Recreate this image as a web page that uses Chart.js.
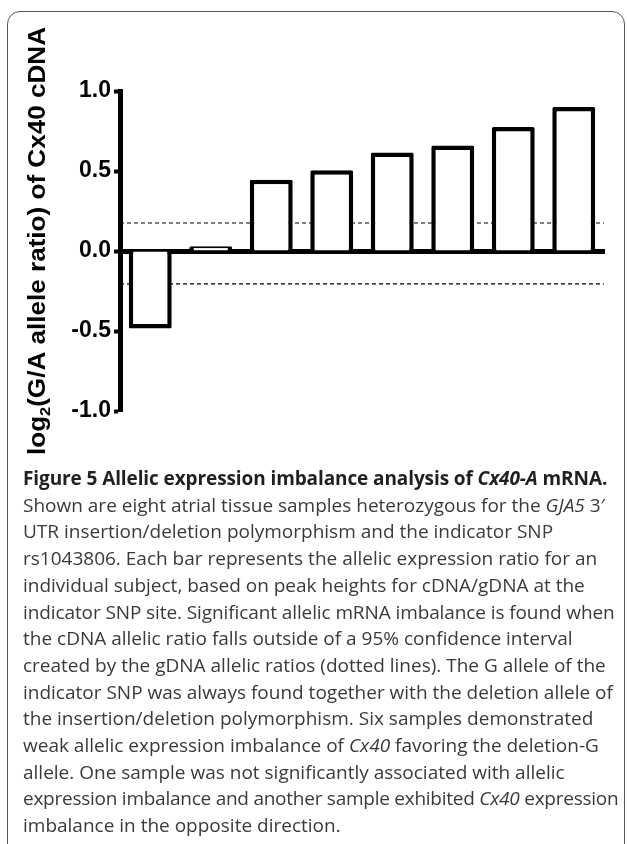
<!DOCTYPE html>
<html><head><meta charset="utf-8">
<script src="https://cdn.jsdelivr.net/npm/chart.js@4"></script>
<style>
html,body{margin:0;padding:0;background:#fff;width:627px;height:844px;overflow:hidden;}
#frame{position:absolute;left:7px;top:11px;width:618px;height:850px;border:1.3px solid #555;border-radius:13px;box-sizing:border-box;}
#wrap{position:absolute;left:0;top:0;width:627px;height:470px;}
#cap{position:absolute;left:23px;top:465px;font-family:"Open Sans";font-size:19px;line-height:26.7px;color:#3a3a3a;white-space:nowrap;}
#cap b{color:#231f20;letter-spacing:-0.1px;}
#cap .l13{letter-spacing:-0.25px;}
#cap .l6{letter-spacing:-0.1px;}
</style></head><body>
<div id="frame"></div>
<div id="wrap"><canvas id="c" width="627" height="470"></canvas></div>
<div id="cap"><b>Figure 5 Allelic expression imbalance analysis of <i>Cx40-A</i> mRNA.</b><br>Shown are eight atrial tissue samples heterozygous for the <i>GJA5</i> 3&#8242;<br>UTR insertion/deletion polymorphism and the indicator SNP<br>rs1043806. Each bar represents the allelic expression ratio for an<br>individual subject, based on peak heights for cDNA/gDNA at the<br><span class="l6">indicator SNP site. Significant allelic mRNA imbalance is found when</span><br>the cDNA allelic ratio falls outside of a 95% confidence interval<br>created by the gDNA allelic ratios (dotted lines). The G allele of the<br>indicator SNP was always found together with the deletion allele of<br>the insertion/deletion polymorphism. Six samples demonstrated<br>weak allelic expression imbalance of <i>Cx40</i> favoring the deletion-G<br>allele. One sample was not significantly associated with allelic<br><span class="l13">expression imbalance and another sample exhibited <i>Cx40</i> expression</span><br>imbalance in the opposite direction.</div>
<script>
const categories = ['S1','S2','S3','S4','S5','S6','S7','S8'];
const ratios = [-0.485, 0.03, 0.445, 0.505, 0.615, 0.66, 0.775, 0.9];
const ciUpper = 0.175;
const ciLower = -0.206;
const yTicks = [-1.0, -0.5, 0.0, 0.5, 1.0];
const titleMain = 'log';
const titleSub = '2';
const titleRest = '(G/A allele ratio) of Cx40 cDNA';

const yTitlePlugin = {
  id: 'yTitle',
  afterDraw(chart) {
    const ctx = chart.ctx;
    ctx.save();
    const big = 'bold 24px "Liberation Sans", Arial, sans-serif';
    const small = 'bold 15px "Liberation Sans", Arial, sans-serif';
    ctx.font = big;
    const w1 = ctx.measureText(titleMain).width;
    const w3 = ctx.measureText(titleRest).width;
    ctx.font = small;
    const w2 = ctx.measureText(titleSub).width;
    const total = w1 + w2 + w3;
    const target = 428;
    ctx.translate(45, 455);
    ctx.rotate(-Math.PI / 2);
    ctx.scale(target / total, 1);
    ctx.fillStyle = '#000';
    ctx.textBaseline = 'alphabetic';
    ctx.textAlign = 'left';
    ctx.font = big;
    ctx.fillText(titleMain, 0, 0);
    ctx.font = small;
    ctx.fillText(titleSub, w1, 5);
    ctx.font = big;
    ctx.fillText(titleRest, w1 + w2, 0);
    ctx.restore();
  }
};

new Chart(document.getElementById('c'), {
  type: 'bar',
  data: {
    labels: categories,
    datasets: [
      {
        type: 'bar', data: ratios, order: 1, grouped: false,
        backgroundColor: '#fff', borderColor: '#000', borderWidth: 4.5,
        borderSkipped: 'start', borderRadius: 1.5,
        categoryPercentage: 1, barPercentage: 0.71
      },
      {
        type: 'line', xAxisID: 'xl', order: 2,
        data: [{x: 0, y: ciUpper}, {x: 1, y: ciUpper}],
        borderColor: '#000', borderWidth: 1.2, borderDash: [4, 3], pointRadius: 0, fill: false
      },
      {
        type: 'line', xAxisID: 'xl', order: 2,
        data: [{x: 0, y: ciLower}, {x: 1, y: ciLower}],
        borderColor: '#000', borderWidth: 1.2, borderDash: [4, 3], pointRadius: 0, fill: false
      }
    ]
  },
  options: {
    responsive: false, animation: false, devicePixelRatio: 1,
    layout: {padding: {left: 0, right: 23, top: 91, bottom: 59}},
    plugins: {legend: {display: false}, tooltip: {enabled: false}},
    scales: {
      x: {
        type: 'category', position: {y: 0}, z: 1, offset: true,
        grid: {display: false, offset: true}, ticks: {display: false},
        border: {display: true, width: 5, color: '#000'}
      },
      xl: {type: 'linear', display: false, min: 0, max: 1, offset: false},
      y: {
        type: 'linear', min: -1, max: 1,
        afterBuildTicks: s => { s.ticks = yTicks.map(v => ({value: v})); },
        afterFit: s => { s.width = 120; },
        grid: {display: true, drawOnChartArea: false, drawTicks: true, tickLength: 6, tickWidth: 4, tickColor: '#000'},
        border: {display: true, width: 5, color: '#000'},
        ticks: {
          padding: 3, color: '#000',
          font: {family: '"Liberation Sans", Arial, sans-serif', weight: 'bold', size: 23},
          callback: v => Number(v).toFixed(1)
        }
      }
    }
  },
  plugins: [yTitlePlugin]
});
</script>
</body></html>
